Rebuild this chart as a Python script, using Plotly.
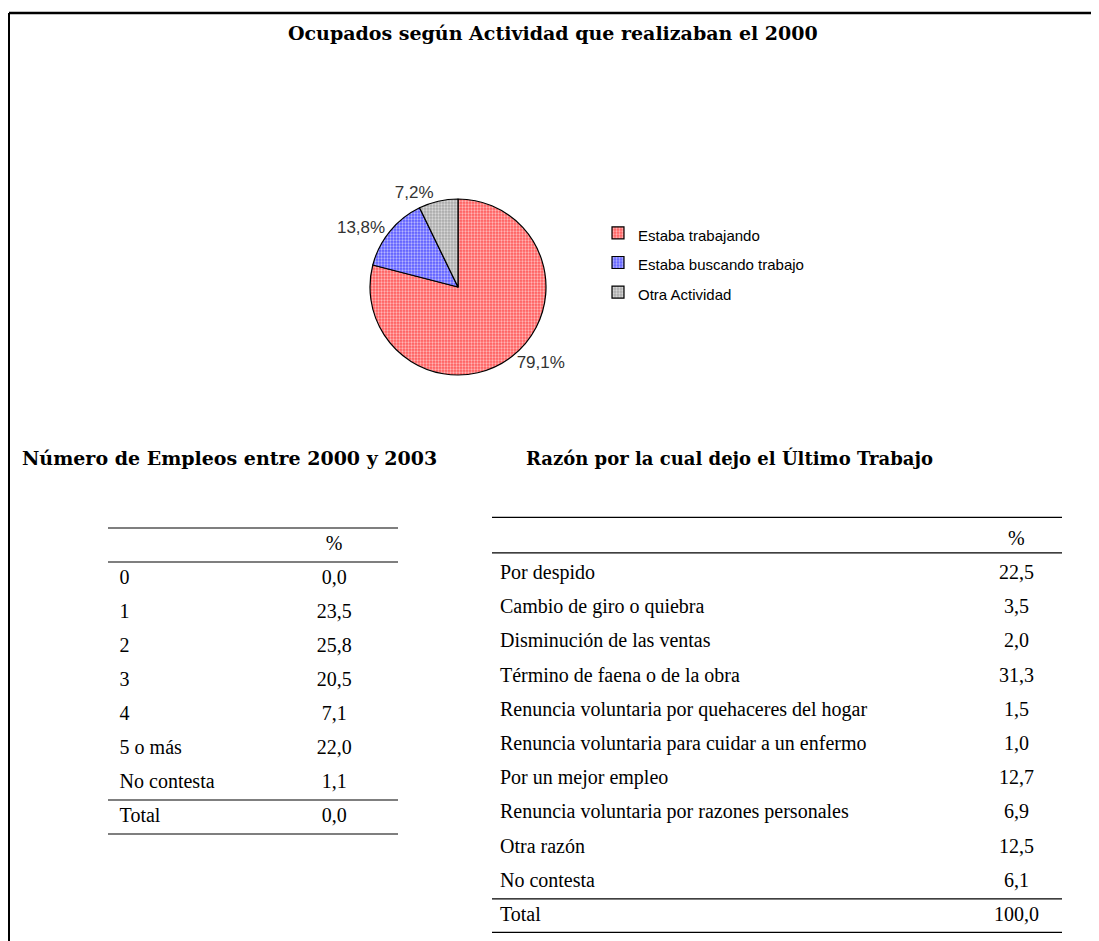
import plotly.graph_objects as go

# the page has an 8px body margin, so the figure is drawn 8px in from the corner
OFF = 8
W, H = 1099 - OFF, 941 - OFF

# actividad que realizaban el 2000 (torta)
actividad = ["Estaba trabajando", "Estaba buscando trabajo", "Otra Actividad"]
actividad_pct = [79.1, 13.8, 7.2]
actividad_colores = ["#FF5A5A", "#5A5AFF", "#A8A8A8"]

# numero de empleos entre 2000 y 2003
empleos = ["0", "1", "2", "3", "4", "5 o más", "No contesta", "Total"]
empleos_pct = [0.0, 23.5, 25.8, 20.5, 7.1, 22.0, 1.1, 0.0]

# razon por la cual dejo el ultimo trabajo
razones = [
    "Por despido",
    "Cambio de giro o quiebra",
    "Disminución de las ventas",
    "Término de faena o de la obra",
    "Renuncia voluntaria por quehaceres del hogar",
    "Renuncia voluntaria para cuidar a un enfermo",
    "Por un mejor empleo",
    "Renuncia voluntaria por razones personales",
    "Otra razón",
    "No contesta",
    "Total",
]
razones_pct = [22.5, 3.5, 2.0, 31.3, 1.5, 1.0, 12.7, 6.9, 12.5, 6.1, 100.0]

TITULO_FONT = dict(family="DejaVu Serif", size=19, color="black")
TABLA_FONT = dict(family="Liberation Serif", size=20, color="black")
PIE_FONT = "Liberation Sans Narrow, Arial Narrow, Liberation Sans"


def coma(v):
    return f"{v:.1f}".replace(".", ",")


def px(p):
    # page pixel column -> paper x
    return (p - OFF) / W


def py(p):
    # page pixel row -> paper y
    return 1 - (p - OFF) / H


fig = go.Figure()

# pie chart
fig.add_trace(go.Pie(
    labels=[f"<span style='font-size:15px'>{a}</span>" for a in actividad],
    values=actividad_pct,
    text=[coma(v) + "%" for v in actividad_pct],
    textinfo="text",
    textposition="outside",
    textfont=dict(family=PIE_FONT, size=17, color="#333333"),
    sort=False,
    direction="clockwise",
    rotation=0,
    hoverinfo="text",
    marker=dict(
        colors=actividad_colores,
        line=dict(color="black", width=1.2),
        pattern=dict(shape=".", fillmode="overlay", fgcolor="white",
                     fgopacity=0.55, size=3, solidity=0.45),
    ),
    domain=dict(x=[px(370), px(546)], y=[py(375), py(199)]),
    automargin=False,
))


def add_tabla(filas, valores, xa, ya, x_lab, x_val, reglas):
    n = len(filas)
    filas_y = list(range(n))
    fig.add_trace(go.Scatter(
        x=[x_lab] * n, y=filas_y, text=filas, mode="text",
        textposition="middle right", textfont=TABLA_FONT,
        xaxis=xa, yaxis=ya, showlegend=False, hoverinfo="skip",
    ))
    fig.add_trace(go.Scatter(
        x=[x_val] * (n + 1), y=[-1] + filas_y,
        text=["%"] + [coma(v) for v in valores], mode="text",
        textposition="middle center", textfont=TABLA_FONT,
        xaxis=xa, yaxis=ya, showlegend=False, hoverinfo="skip",
    ))
    # horizontal rules: top, under header, above total, bottom
    for yl in reglas:
        fig.add_shape(type="line", xref=xa, yref=ya, x0=0, x1=1, y0=yl, y1=yl,
                      line=dict(color="black", width=1.2))


n1, n2 = len(empleos), len(razones)
add_tabla(empleos, empleos_pct, "x", "y", 0.04, 0.78,
          [-1.5, -0.5, n1 - 1.5, n1 - 0.5])
add_tabla(razones, razones_pct, "x2", "y2", 0.014, 0.92,
          [-1.66, -0.62, n2 - 1.5, n2 - 0.52])

hidden = dict(visible=False, fixedrange=True)
fig.update_layout(
    width=W, height=H,
    margin=dict(l=0, r=0, t=0, b=0),
    paper_bgcolor="white", plot_bgcolor="white",
    xaxis=dict(domain=[px(108), px(398)], range=[0, 1], **hidden),
    yaxis=dict(domain=[py(835), py(527)], range=[n1 - 0.47, -1.53], **hidden),
    xaxis2=dict(domain=[px(492), px(1062)], range=[0, 1], **hidden),
    yaxis2=dict(domain=[py(934), py(516)], range=[n2 - 0.47, -1.7], **hidden),
    # big legend font only sets the row spacing; the label spans carry the real size
    legend=dict(
        x=px(598), y=py(213), xanchor="left", yanchor="top",
        font=dict(family=PIE_FONT, size=20.5, color="black"),
        bgcolor="rgba(0,0,0,0)", itemclick=False,
    ),
    showlegend=True,
)

# titles
fig.add_annotation(text="<b>Ocupados según Actividad que realizaban el 2000</b>",
                   x=px(553), y=py(33), xref="paper", yref="paper", yanchor="middle",
                   showarrow=False, font=TITULO_FONT)
fig.add_annotation(text="<b>Número de Empleos entre 2000 y 2003</b>",
                   x=px(20), y=py(458), xref="paper", yref="paper",
                   xanchor="left", yanchor="middle", showarrow=False, font=TITULO_FONT)
fig.add_annotation(text="<b>Razón por la cual dejo el Último Trabajo</b>",
                   x=px(524), y=py(458), xref="paper", yref="paper",
                   xanchor="left", yanchor="middle", showarrow=False,
                   font=dict(TITULO_FONT, size=18))

# page frame
fig.add_shape(type="line", xref="paper", yref="paper", x0=px(9), x1=1, y0=py(13), y1=py(13),
              line=dict(color="black", width=2.5))
fig.add_shape(type="line", xref="paper", yref="paper", x0=px(9), x1=px(9), y0=py(13), y1=0,
              line=dict(color="black", width=2))

fig.write_html("out.html")
